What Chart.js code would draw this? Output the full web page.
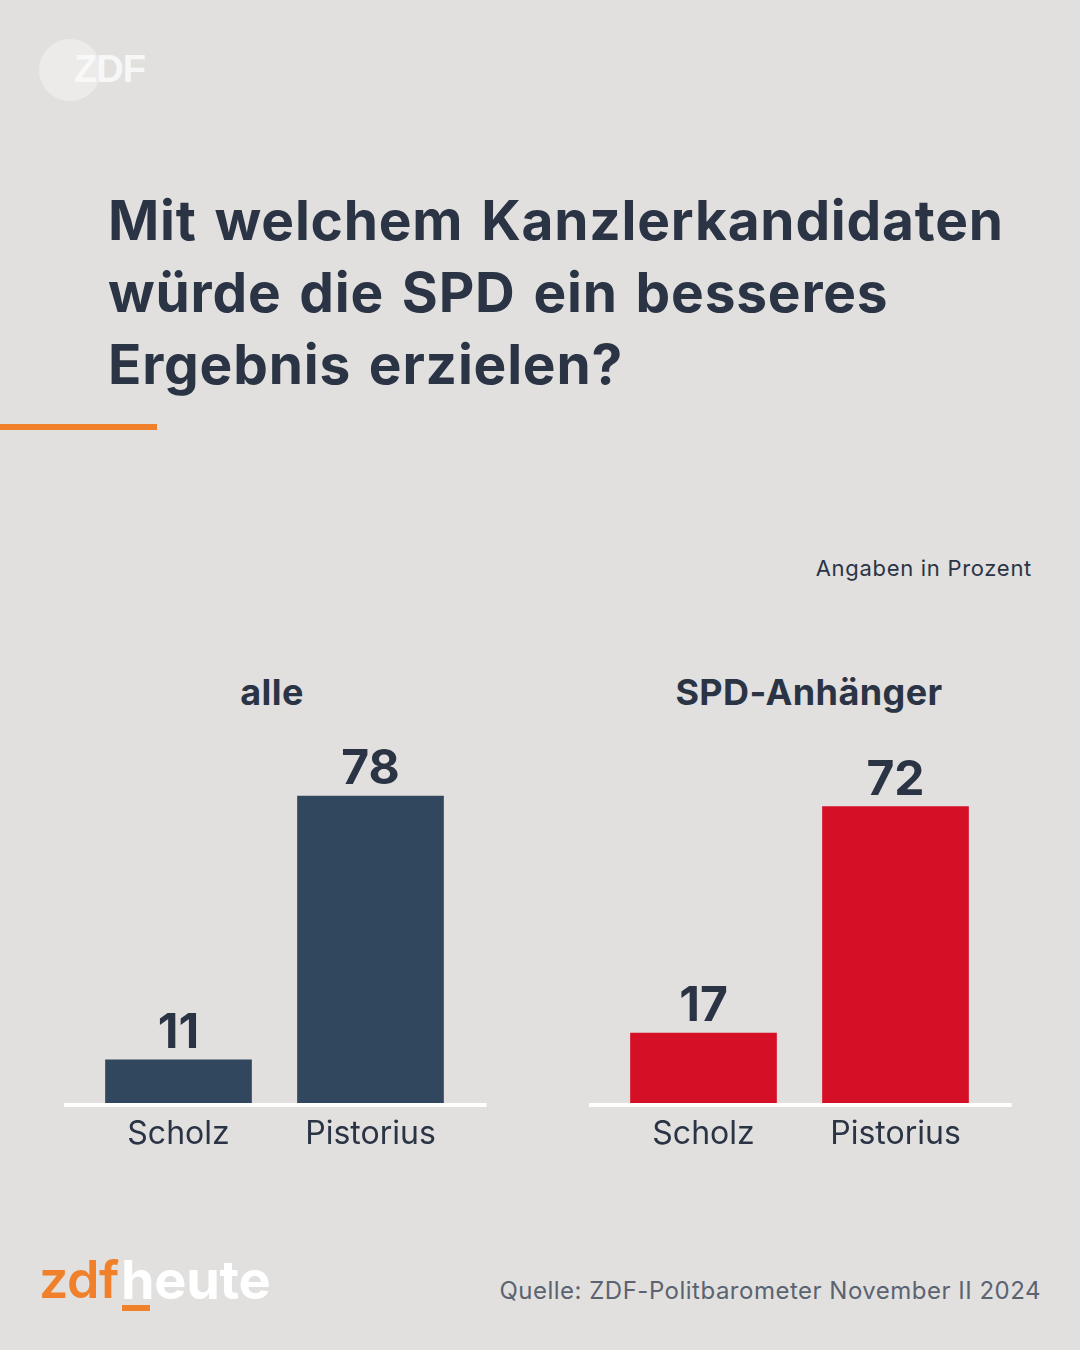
<!DOCTYPE html>
<html lang="de">
<head>
<meta charset="utf-8">
<script src="https://cdn.jsdelivr.net/npm/chart.js@4.4.1/dist/chart.umd.min.js"></script>
<style>
  html, body { margin:0; padding:0; }
  body { width:1080px; height:1350px; background:#e1e0df; position:relative; overflow:hidden; font-family: Inter, "Liberation Sans", sans-serif; color:#2b3445; }
  .abs { position:absolute; white-space:nowrap; }
  #logoCircle { left:39px; top:39px; width:62px; height:62px; border-radius:50%; background:#ecebea; }
  #logoText { left:74px; top:47px; font: 700 38px/44px "Liberation Sans", sans-serif; color:#fafafa; letter-spacing:-1px; opacity:0.9; }
  #title { left:108px; top:184px; font: 700 55px/72px Inter, sans-serif; color:#2b3445; letter-spacing:0.8px; word-spacing:4px; }
  #accent { left:0; top:424px; width:157px; height:6px; background:#f0802a; }
  #unit { right:48px; top:554px; font: 400 22px/28px Inter, sans-serif; color:#2b3445; letter-spacing:0.7px; }
  .sub { top:670px; font: 700 36px/44px Inter, sans-serif; color:#2b3445; transform:translateX(-50%); letter-spacing:0.4px; }
  .brand { top:1250px; font: 700 52px/60px Inter, sans-serif; }
  #brandZdf { left:39px; color:#f0802a; font-weight:600; letter-spacing:-0.5px; }
  #brandHeute { left:121px; color:#ffffff; font-size:54px; letter-spacing:-0.3px; }
  #uline { left:122px; top:1305px; width:28px; height:6px; background:#f0802a; }
  #source { right:39px; top:1277px; font: 400 24px/28px Inter, sans-serif; color:#5b6370; letter-spacing:0.5px; }
  canvas { position:absolute; }
</style>
</head>
<body>
<div id="logoCircle" class="abs"></div>
<div id="logoText" class="abs">ZDF</div>
<div id="title" class="abs">Mit welchem Kanzlerkandidaten<br>würde die SPD ein besseres<br>Ergebnis erzielen?</div>
<div id="accent" class="abs"></div>
<div id="unit" class="abs">Angaben in Prozent</div>
<div id="subAlle" class="abs sub" style="left:272px">alle</div>
<div id="subSpd" class="abs sub" style="left:809px">SPD-Anhänger</div>
<canvas id="chartAlle" width="540" height="480" style="left:0px; top:700px"></canvas>
<canvas id="chartSpd" width="540" height="480" style="left:525px; top:700px"></canvas>
<div id="brandZdf" class="abs brand">zdf</div>
<div id="brandHeute" class="abs brand">heute</div>
<div id="uline" class="abs"></div>
<div id="source" class="abs">Quelle: ZDF-Politbarometer November II 2024</div>

<script>
// ---- data ----
const categories = ["Scholz", "Pistorius"];
const groupTitles = ["alle", "SPD-Anhänger"];
const valuesAlle = [11, 78];
const valuesSpd = [17, 72];
const yMaxAlle = 90;
const yMaxSpd = 86;

const colorAlle = "#30475e";
const colorSpd = "#d40f26";
const textColor = "#2b3445";

const valueLabelPlugin = {
  id: "valueLabels",
  afterDatasetsDraw(chart) {
    const ctx = chart.ctx;
    const meta = chart.getDatasetMeta(0);
    const data = chart.data.datasets[0].data;
    ctx.save();
    ctx.font = "700 48px Inter, sans-serif";
    ctx.fillStyle = textColor;
    ctx.textAlign = "center";
    ctx.textBaseline = "alphabetic";
    meta.data.forEach((bar, i) => {
      ctx.fillText(String(data[i]), bar.x, bar.y - 12);
    });
    ctx.restore();
  }
};

const baselinePlugin = {
  id: "baseline",
  afterDatasetsDraw(chart) {
    const ctx = chart.ctx;
    const a = chart.chartArea;
    const y = chart.scales.y.getPixelForValue(0);
    ctx.save();
    ctx.strokeStyle = "#ffffff";
    ctx.lineWidth = 4;
    ctx.beginPath();
    ctx.moveTo(a.left - 18.5, y + 2);
    ctx.lineTo(a.right + 20, y + 2);
    ctx.stroke();
    ctx.restore();
  }
};

function makeChart(id, values, color, yMax) {
  return new Chart(document.getElementById(id), {
    type: "bar",
    data: {
      labels: categories,
      datasets: [{
        data: values,
        backgroundColor: color,
        borderWidth: 0,
        barThickness: 146
      }]
    },
    options: {
      responsive: false,
      animation: false,
      events: [],
      layout: { padding: { left: 82.5, right: 73.5, top: 49, bottom: 0 } },
      plugins: { legend: { display: false }, tooltip: { enabled: false } },
      scales: {
        x: {
          grid: { display: false, drawTicks: false },
          border: { display: false },
          ticks: { color: textColor, font: { family: "Inter, sans-serif", size: 32, weight: "400" }, padding: 12 },
          afterFit(scale) { scale.height = 77; }
        },
        y: {
          display: false,
          min: 0,
          max: yMax
        }
      }
    },
    plugins: [valueLabelPlugin, baselinePlugin]
  });
}

makeChart("chartAlle", valuesAlle, colorAlle, yMaxAlle);
makeChart("chartSpd", valuesSpd, colorSpd, yMaxSpd);
</script>
</body>
</html>
